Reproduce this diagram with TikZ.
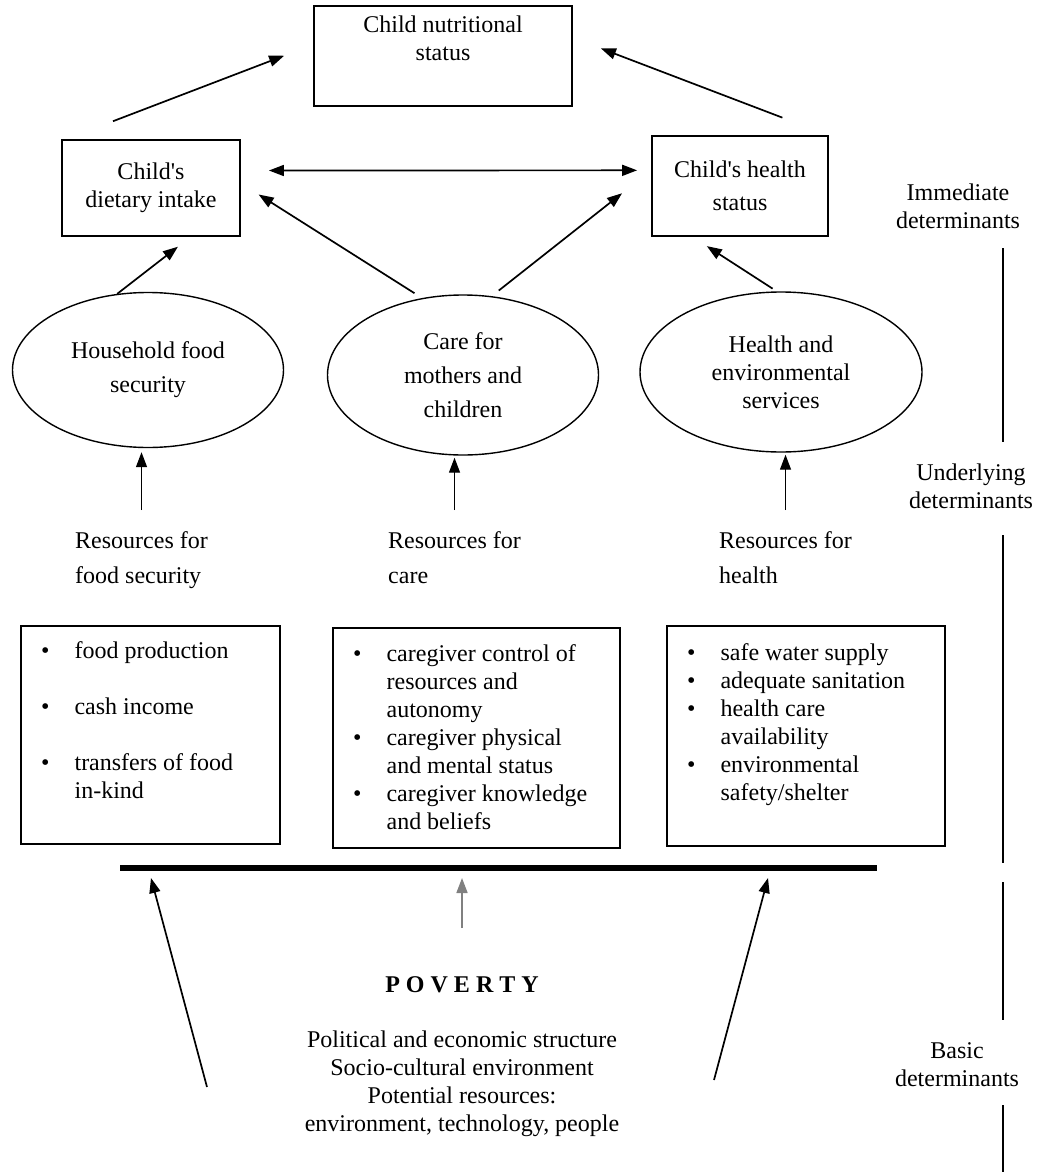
\documentclass[tikz,border=0pt]{standalone}
\usepackage{fontspec}
\setmainfont{Liberation Serif}
\usetikzlibrary{shapes.geometric,arrows.meta}

\begin{document}
\begin{tikzpicture}[x=1pt,y=-1pt,
	>={Triangle[length=15pt,width=11pt]},
	every node/.style={font=\fontsize{24}{28}\selectfont},
	box/.style={draw, line width=1.8pt, inner sep=0pt, align=center},
	oval/.style={draw, ellipse, line width=1.4pt, inner sep=0pt, align=center},
	txt/.style={inner sep=0pt, align=center},
	arr/.style={->, line width=1.7pt},
	side/.style={line width=1.6pt}]
		\useasboundingbox (0,0) rectangle (1039,1172);
		% immediate determinants
		\node[box, minimum width=258pt, minimum height=100pt] (ns) at (443,56) {Child nutritional\\status\\\strut};
		\node[box, minimum width=178pt, minimum height=96pt] (dl) at (151,188) {Child\textquotesingle s\\dietary intake};
		\node[box, minimum width=176pt, minimum height=100pt] (hs) at (740,186) {Child\textquotesingle s health\\[5pt]status};
		% underlying determinants
		\node[oval, minimum width=271pt, minimum height=155pt] (e1) at (148,370) {Household food\\[6pt]security};
		\node[oval, minimum width=271pt, minimum height=160pt] (e2) at (463,375) {Care for\\[6pt]mothers and\\[6pt]children};
		\node[oval, minimum width=282pt, minimum height=160pt] (e3) at (781,372) {Health and\\environmental\\services};
		\node[txt, align=left, anchor=north west] (r1) at (75,531) {Resources for\\[7pt]food security};
		\node[txt, align=left, anchor=north west] (r2) at (388,531) {Resources for\\[7pt]care};
		\node[txt, align=left, anchor=north west] (r3) at (719,531) {Resources for\\[7pt]health};
		% resource boxes
		\node[box, minimum width=259pt, minimum height=218pt] (b1) at (150.5,735) {};
		\node[box, minimum width=287pt, minimum height=220pt] (b2) at (476.5,738) {};
		\node[box, minimum width=278pt, minimum height=220pt] (b3) at (806,736) {};
		\node[txt, align=left, anchor=north west] (l1) at (41,639) {\begin{tabular}{@{}l@{\hspace{25pt}}l@{}}
			\textbullet & food production\\[28pt]
			\textbullet & cash income\\[28pt]
			\textbullet & transfers of food\\
			& in-kind
		\end{tabular}};
		\node[txt, align=left, anchor=north west] (l2) at (353,642) {\begin{tabular}{@{}l@{\hspace{25pt}}l@{}}
			\textbullet & caregiver control of\\
			& resources and\\
			& autonomy\\
			\textbullet & caregiver physical\\
			& and mental status\\
			\textbullet & caregiver knowledge\\
			& and beliefs
		\end{tabular}};
		\node[txt, align=left, anchor=north west] (l3) at (687,641) {\begin{tabular}{@{}l@{\hspace{25pt}}l@{}}
			\textbullet & safe water supply\\
			\textbullet & adequate sanitation\\
			\textbullet & health care\\
			& availability\\
			\textbullet & environmental\\
			& safety/shelter
		\end{tabular}};
		\node[fill=black, minimum width=757pt, minimum height=5.5pt, inner sep=0pt] (bar) at (498.5,868) {};
		% basic determinants
		\node[txt] (pov) at (462,985) {\textbf{P O V E R T Y}};
		\node[txt] (basic) at (462,1084) {Political and economic structure\\Socio-cultural environment\\Potential resources:\\environment, technology, people};
		% side labels
		\node[txt] (imm) at (958,206) {Immediate\\determinants};
		\node[txt] (und) at (971,486) {Underlying\\determinants};
		\node[txt] (bas) at (957,1065) {Basic\\determinants};
		\draw[side] (1003,248) -- (1003,442);
		\draw[side] (1003,535) -- (1003,863);
		\draw[side] (1003,882) -- (1003,1020);
		\draw[side] (1003,1105) -- (1003,1172);
		% arrows
		\draw[arr, shorten <=50pt, shorten >=31pt] (dl.150) -- (ns.175);
		\draw[arr, shorten <=49pt, shorten >=30pt] (hs.30) -- (ns.8);
		\draw[arr, <->, shorten <=28pt, shorten >=14pt] (dl.11) -- (hs.170);
		\draw[arr, shorten >=16pt] (e1.112) -- (dl.309);
		\draw[arr, shorten <=9pt, shorten >=21pt] (e2.118) -- (dl.3);
		\draw[arr, shorten <=9pt, shorten >=37pt] (e2.70) -- (hs.170);
		\draw[arr, shorten <=5pt, shorten >=17pt] (e3.93) -- (hs.227);
		\draw[arr, line width=1.3pt, shorten <=21pt, shorten >=4pt] (r1.north) -- (r1.north |- e1.south);
		\draw[arr, line width=1.3pt, shorten <=21pt, shorten >=2pt] (r2.north) -- (r2.north |- e2.south);
		\draw[arr, line width=1.3pt, shorten <=21pt, shorten >=2pt] (r3.north) -- (r3.north |- e3.south);
		\coordinate (s1) at (207,1087);
		\coordinate (t1) at (151,878);
		\coordinate (s2) at (462,928);
		\coordinate (t2) at (462,878);
		\coordinate (s3) at (714,1080);
		\coordinate (t3) at (768,878);
		\draw[arr] (s1) -- (t1);
		\draw[arr, black!50] (s2) -- (t2);
		\draw[arr] (s3) -- (t3);
	\end{tikzpicture}
\end{document}
